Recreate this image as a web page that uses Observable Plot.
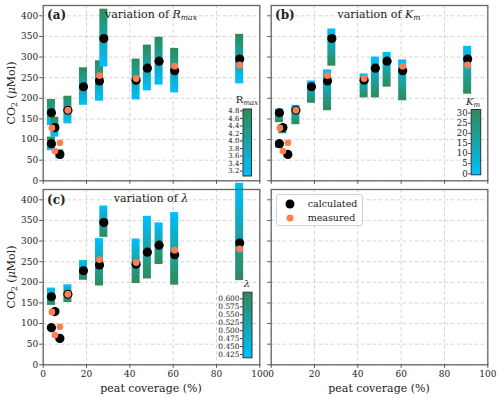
<!DOCTYPE html>
<html>
<head>
<meta charset="utf-8">
<script src="https://cdn.jsdelivr.net/npm/d3@7"></script>
<script src="https://cdn.jsdelivr.net/npm/@observablehq/plot@0.6"></script>
<style>
html, body { margin: 0; padding: 0; background: #fff; }
#wrap { position: relative; width: 500px; height: 398px; overflow: hidden; font-family: "DejaVu Serif", serif; color: #222; background: #fff; }
.lbl { position: absolute; white-space: nowrap; transform: translate(-50%, -50%); line-height: 1; }
.sub { font-size: 0.7em; position: relative; top: 0.3em; }
.legend { position: absolute; border: 1px solid #d0d0d0; border-radius: 3px; background: rgba(255,255,255,0.85); box-sizing: border-box; }
.legend .row { position: absolute; left: 0; height: 12px; font-size: 9.5px; line-height: 12px; }
.legend .mk { position: absolute; border-radius: 50%; transform: translate(-50%, -50%); }
</style>
</head>
<body>
<div id="wrap">
<svg width="0" height="0" style="position:absolute">
  <defs>
    <linearGradient id="gUp" x1="0" y1="1" x2="0" y2="0">
      <stop offset="0" stop-color="#00bfff"/><stop offset="1" stop-color="#2e8b57"/>
    </linearGradient>
    <linearGradient id="gDown" x1="0" y1="0" x2="0" y2="1">
      <stop offset="0" stop-color="#00bfff"/><stop offset="1" stop-color="#2e8b57"/>
    </linearGradient>
  </defs>
</svg>
</div>
<script>
// ---------------- data ----------------
const xTicks = [0, 20, 40, 60, 80, 100];
const yTicks = [0, 50, 100, 150, 200, 250, 300, 350, 400];

const calcX   = [3.8, 5.4, 3.8, 7.7, 11.4, 18.6, 26, 28, 42.9, 48.1, 53.5, 60.7, 90.7];
const calcCO2 = [165, 129, 90, 64, 171, 228, 242, 345, 244, 273, 290, 267, 295];

const measX   = [4.0, 5.4, 7.7, 11.4, 26, 42.9, 60.7, 90.7];
const measCO2 = [128, 72, 92, 171, 255, 248, 278, 281];

const rmaxLow  = [134, 106, 73, 53, 138, 183, 193, 276, 196, 218, 232, 213, 235];
const rmaxHigh = [197, 154, 106, 75, 205, 274, 291, 416, 295, 329, 348, 321, 355];

const kmLow  = [141, 114, 79, 57, 136, 188, 170, 278, 201, 201, 227, 194, 210];
const kmHigh = [174, 136, 96, 69.5, 183, 242, 269, 368, 259, 300, 311, 293, 326];

const lamLow  = [144, 123, 85, 58, 151, 205, 191, 309, 197, 208, 243, 193, 204];
const lamHigh = [186, 134, 96, 69.5, 194, 253, 306, 385, 305, 360, 344, 369, 440];

const rmaxTicks = [3.2, 3.4, 3.6, 3.8, 4.0, 4.2, 4.4, 4.6, 4.8];
const rmaxRange = [3.07, 4.85];
const kmTicks = [0, 5, 10, 15, 20, 25, 30];
const kmRange = [-0.5, 31.8];
const lamTicks = [0.425, 0.45, 0.475, 0.5, 0.525, 0.55, 0.575, 0.6];
const lamRange = [0.4146, 0.621];

// ---------------- layout ----------------
const W = 500, H = 398;
const BOX = {
  a: {l: 42.7, r: 259.3, t: 5, b: 180.3},
  b: {l: 270.7, r: 487.3, t: 5, b: 180.3},
  c: {l: 42.7, r: 259.3, t: 189, b: 364.3},
  d: {l: 270.7, r: 487.3, t: 189, b: 364.3}
};
const HALF = 1.85; // half bar width in % units
const calc = calcX.map((x, i) => ({x, v: calcCO2[i]}));
const meas = measX.map((x, i) => ({x, v: measCO2[i]}));
const bars = (lo, hi) => calcX.map((x, i) => ({x, lo: lo[i], hi: hi[i]}));

const wrap = document.getElementById("wrap");

function panel(box, barData, grad, showX, showY) {
  const marks = [
    Plot.gridX(xTicks, {stroke: "#c9c9c9", strokeOpacity: 1, strokeWidth: 0.8, strokeDasharray: "3.5,2.5"}),
    Plot.gridY(yTicks, {stroke: "#c9c9c9", strokeOpacity: 1, strokeWidth: 0.8, strokeDasharray: "3.5,2.5"})
  ];
  if (barData) {
    marks.push(
      Plot.rect(barData, {x1: d => d.x - HALF, x2: d => d.x + HALF, y1: "lo", y2: "hi", fill: grad}),
      Plot.dot(calc, {x: "x", y: "v", r: 4.6, fill: "black", stroke: "none"}),
      Plot.dot(meas, {x: "x", y: "v", r: 3.4, fill: "#ff7f50", stroke: "none"})
    );
  }
  marks.push(
    Plot.frame({stroke: "#666", strokeWidth: 1.3}),
    Plot.axisX({ticks: xTicks, tickSize: 3.5, tickPadding: 2, stroke: "#555",
      tickFormat: showX ? d => String(d) : () => "", label: null}),
    Plot.axisY({ticks: yTicks, tickSize: 3.5, tickPadding: 1.5, stroke: "#555",
      tickFormat: showY ? d => String(d) : () => "", label: null})
  );
  return Plot.plot({
    width: W, height: H,
    marginLeft: box.l, marginRight: W - box.r, marginTop: box.t, marginBottom: H - box.b,
    x: {domain: [0, 100]},
    y: {domain: [0, 425]},
    style: {background: "transparent", fontFamily: "DejaVu Serif", fontSize: "9px", color: "#222", overflow: "visible"},
    marks
  });
}

function colorbar(box, range, ticks, fmt, fs) {
  return Plot.plot({
    width: W, height: H,
    marginLeft: box.l, marginRight: W - box.r, marginTop: box.t, marginBottom: H - box.b,
    x: {domain: [0, 1], axis: null},
    y: {domain: range},
    style: {background: "transparent", fontFamily: "DejaVu Serif", fontSize: fs, color: "#222", overflow: "visible"},
    marks: [
      Plot.frame({fill: "url(#gUp)", stroke: "#333", strokeWidth: 1}),
      Plot.axisY({ticks, tickSize: 2.5, tickPadding: 1, stroke: "#333", tickFormat: fmt, label: null})
    ]
  });
}

function add(el) {
  el.style.position = "absolute"; el.style.left = "0px"; el.style.top = "0px";
  wrap.appendChild(el);
}

add(panel(BOX.a, bars(rmaxLow, rmaxHigh), "url(#gUp)", false, true));
add(panel(BOX.b, bars(kmLow, kmHigh), "url(#gDown)", false, false));
add(panel(BOX.d, null, null, true, false));
add(panel(BOX.c, bars(lamLow, lamHigh), "url(#gDown)", true, true));

add(colorbar({l: 242.5, r: 251, t: 108.5, b: 175.5}, rmaxRange, rmaxTicks, d3.format(".1f"), "7px"));
add(colorbar({l: 470.7, r: 480.2, t: 109, b: 174.3}, kmRange, kmTicks, d3.format("d"), "8.6px"));
add(colorbar({l: 242.5, r: 251.5, t: 291.7, b: 357.3}, lamRange, lamTicks, d3.format(".3f"), "7.4px"));

// ---------------- text ----------------
function label(html, x, y, style) {
  const d = document.createElement("div");
  d.className = "lbl";
  d.innerHTML = html;
  d.style.left = x + "px"; d.style.top = y + "px";
  Object.assign(d.style, style || {});
  wrap.appendChild(d);
  return d;
}
const titleStyle = {fontSize: "11px"};
label('variation of <i>R</i><span class="sub"><i>max</i></span>', 151, 13.5, titleStyle);
label('variation of <i>K</i><span class="sub"><i>m</i></span>', 379, 13.5, titleStyle);
label('variation of <i>λ</i>', 151, 197.5, titleStyle);

const tagStyle = {fontSize: "12px", fontWeight: "bold", transform: "translate(0,-50%)"};
label('(a)', 47, 15, tagStyle);
label('(b)', 275, 15, tagStyle);
label('(c)', 47, 199.5, tagStyle);

label('R<span class="sub"><i>max</i></span>', 247, 100, {fontSize: "10px"});
label('<i>K</i><span class="sub"><i>m</i></span>', 473, 101.5, {fontSize: "10px"});
label('<i>λ</i>', 247, 283.5, {fontSize: "10px"});

const ylab = {fontSize: "11px", transform: "translate(-50%,-50%) rotate(-90deg)"};
label('CO<span class="sub">2</span> (<i>μ</i>Mol)', 10.5, 92.6, ylab);
label('CO<span class="sub">2</span> (<i>μ</i>Mol)', 10.5, 276.7, ylab);
label('peat coverage (%)', 151, 388, {fontSize: "11px"});
label('peat coverage (%)', 379, 388, {fontSize: "11px"});

// legend
const lg = document.createElement("div");
lg.className = "legend";
Object.assign(lg.style, {left: "275.7px", top: "194px", width: "87px", height: "32px"});
lg.innerHTML =
  '<div class="row" style="top:2.7px;width:87px"><span class="mk" style="left:13.6px;top:6px;width:9px;height:9px;background:#000"></span><span style="position:absolute;left:31px">calculated</span></div>' +
  '<div class="row" style="top:16.7px;width:87px"><span class="mk" style="left:13.6px;top:6px;width:7px;height:7px;background:#ff7f50"></span><span style="position:absolute;left:31px">measured</span></div>';
wrap.appendChild(lg);
</script>
</body>
</html>
